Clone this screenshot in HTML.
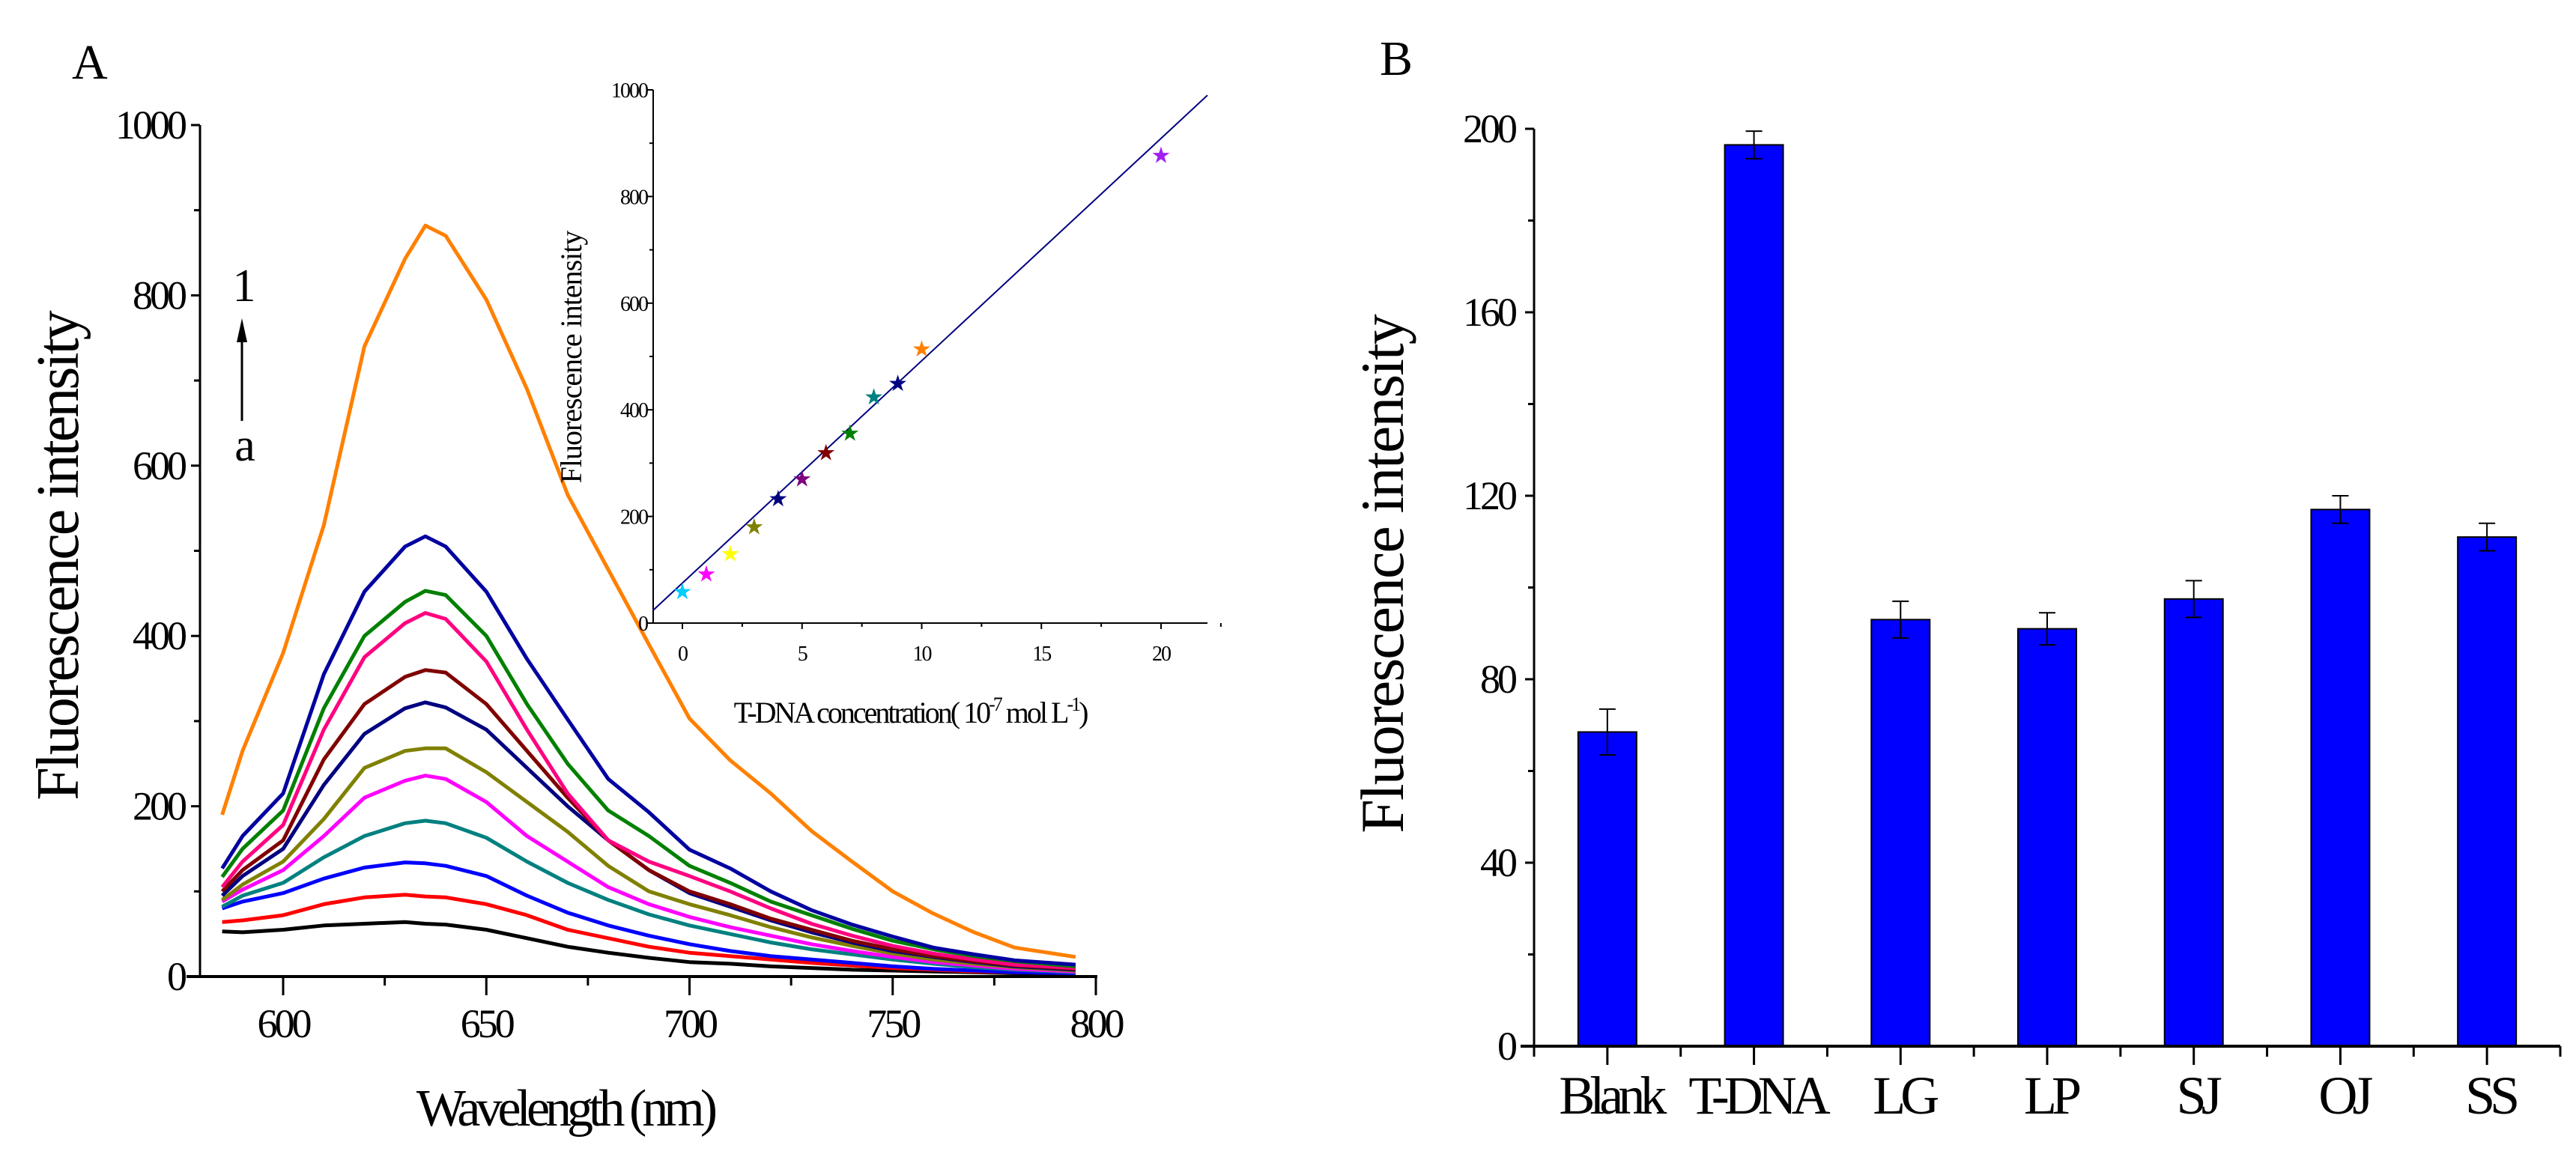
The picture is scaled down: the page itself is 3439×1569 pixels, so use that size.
<!DOCTYPE html>
<html><head><meta charset="utf-8"><style>
html,body{margin:0;padding:0;background:#fff}
svg{display:block}
text{font-family:"Liberation Serif",serif;fill:#000}
</style></head><body>
<svg id="fig" width="3439" height="1569" viewBox="0 0 3439 1569">
<g id="panelA"></g>
<g id="inset"></g>
<g id="panelB"></g>
</svg>
<script>
// ---------- Panel A data ----------
const wavelengths = [585,590,600,610,620,630,635,640,650,660,670,680,690,700,710,720,730,740,750,760,770,780,795];
const curveColors = ["#000000","#ff0000","#0000ff","#008080","#ff00ff","#808000","#000080","#800000","#ff0080","#008000","#0000a0","#ff8000"];
const curveBlack   = [53,52,55,60,62,64,62,61,55,45,35,28,22,17,15,12,10,8,7,6,5,4,3];
const curveRed     = [64,66,72,85,93,96,94,93,85,72,55,45,35,28,24,20,16,13,10,8,6,5,4];
const curveBlue    = [80,88,98,115,128,134,133,130,118,95,75,60,48,38,30,24,20,16,12,9,7,5,4];
const curveTeal    = [82,95,110,140,165,180,183,180,163,135,110,90,73,60,50,40,32,26,20,15,11,8,5];
const curveMagenta = [88,102,125,165,210,230,236,232,205,165,135,105,85,70,58,48,38,30,23,17,13,9,6];
const curveOlive   = [90,108,135,185,245,265,268,268,240,205,170,130,100,85,72,58,46,36,27,20,15,11,7];
const curveNavy    = [95,118,150,225,285,315,322,316,290,245,200,160,125,98,82,66,52,40,30,23,17,12,8];
const curveDarkRed = [100,125,160,255,320,352,360,357,320,265,210,160,125,100,85,68,55,42,32,24,18,13,9];
const curvePink    = [105,135,178,290,375,415,427,420,370,290,215,160,135,118,100,80,62,48,36,27,20,14,10];
const curveGreen   = [117,150,195,315,400,440,453,448,400,320,250,195,165,130,110,88,72,56,42,32,24,18,12];
const curveBlue2   = [127,165,215,355,452,505,517,505,452,373,302,232,193,149,127,100,78,61,47,34,26,19,14];
const curveOrange  = [190,265,380,530,740,843,882,870,795,690,566,478,390,303,254,215,171,135,100,74,52,34,23];
const curves = [curveBlack,curveRed,curveBlue,curveTeal,curveMagenta,curveOlive,curveNavy,curveDarkRed,curvePink,curveGreen,curveBlue2,curveOrange];
const aXTicks = [600,650,700,750,800];
const aYTicks = [0,200,400,600,800,1000];

// ---------- Inset data ----------
const concentrations = [0,1,2,3,4,5,6,7,8,9,10,20];
const insetValues = [62,95,133,183,236,273,322,359,427,452,517,880];
const pointColors = ["#00ccff","#ff00ff","#ffff00","#808000","#000080","#800080","#800000","#008000","#008080","#000080","#ff8000","#a020f0"];
const fitSlope = [41.7];
const fitIntercept = [75];
const insetXTicks = [0,5,10,15,20];
const insetYTicks = [0,200,400,600,800,1000];

// ---------- Panel B data ----------
const categories = ["Blank","T-DNA","LG","LP","SJ","OJ","SS"];
const barValues = [68.5,196.5,93,91,97.5,117,111];
const barErrors = [5,3,4,3.5,4,3,3];
const bYTicks = [0,40,80,120,160,200];

const NS="http://www.w3.org/2000/svg";
function mk(parent,tag,attrs,txt){const e=document.createElementNS(NS,tag);for(const k in attrs)e.setAttribute(k,attrs[k]);if(txt!==undefined)e.textContent=txt;parent.appendChild(e);return e;}

// ===== Panel A =====
const A=document.getElementById('panelA');
const ax0=267, ay0=1304, ay1=167;
const ax=v=>378+(v-600)*(1463-378)/200;
const ax1=ax(800);
const ay=v=>ay0-(v)*(ay0-ay1)/1000;
curves.forEach((c,i)=>{
  const d=c.map((v,j)=>(j?'L':'M')+ax(wavelengths[j]).toFixed(1)+','+ay(v).toFixed(1)).join(' ');
  const p=mk(A,'path',{d:d,fill:'none',stroke:curveColors[i],'stroke-width':5,'stroke-linejoin':'round'});
  
  
});
let l=mk(A,'line',{x1:ax0,y1:ay0,x2:ax0,y2:ay1,stroke:'#000','stroke-width':3});

l=mk(A,'line',{x1:ax0-18,y1:ay0,x2:ax1+2,y2:ay0,stroke:'#000','stroke-width':4});

for(let v=0;v<=1000;v+=100){mk(A,'line',{x1:ax0-(v%200?8:12),y1:ay(v),x2:ax0,y2:ay(v),stroke:'#000','stroke-width':3});}
for(let v=600;v<=800;v+=25){mk(A,'line',{x1:ax(v),y1:ay0,x2:ax(v),y2:ay0+(v%50?12:25),stroke:'#000','stroke-width':3});}
aYTicks.forEach(v=>{const t=mk(A,'text',{x:246,y:ay(v)+18,'text-anchor':'end','font-size':54,'letter-spacing':-4},String(v));
  });
aXTicks.forEach(v=>{const t=mk(A,'text',{x:ax(v),y:1385,'text-anchor':'middle','font-size':54,'letter-spacing':-4},String(v));
  });
let t=mk(A,'text',{x:0,y:0,transform:'translate(104,743) rotate(-90)','text-anchor':'middle','font-size':80,'letter-spacing':-3},'Fluorescence intensity');

t=mk(A,'text',{x:754,y:1503,'text-anchor':'middle','font-size':70,'letter-spacing':-6},'Wavelength (nm)');

t=mk(A,'text',{x:96,y:105,'font-size':66},'A');

t=mk(A,'text',{x:326,y:402,'text-anchor':'middle','font-size':62},'1');

t=mk(A,'text',{x:327,y:615,'text-anchor':'middle','font-size':62},'a');

l=mk(A,'line',{x1:323,y1:562,x2:323,y2:450,stroke:'#000','stroke-width':3});

mk(A,'polygon',{points:'323,425 316,457 330,457',fill:'#000'});

// ===== Inset =====
const I=document.getElementById('inset');
const ix0=872, ix1=1612, iy0=832, iy1=120;
const ix=v=>911+v*(1550-911)/20;
const iy=v=>iy0-v*(iy0-iy1)/1000;
l=mk(I,'line',{x1:ix0,y1:iy0,x2:ix0,y2:iy1,stroke:'#000','stroke-width':2});

l=mk(I,'line',{x1:ix0,y1:iy0,x2:ix1,y2:iy0,stroke:'#000','stroke-width':2});

for(let v=0;v<=1000;v+=100){mk(I,'line',{x1:ix0-(v%200?5:8),y1:iy(v),x2:ix0,y2:iy(v),stroke:'#000','stroke-width':2});}
for(let v=0;v<=22.5;v+=2.5){mk(I,'line',{x1:ix(v),y1:iy0,x2:ix(v),y2:iy0+(v%5?5:8),stroke:'#000','stroke-width':2});}
insetYTicks.forEach(v=>{const t=mk(I,'text',{x:864,y:iy(v)+10,'text-anchor':'end','font-size':28,'letter-spacing':-2},String(v));
  });
insetXTicks.forEach(v=>{const t=mk(I,'text',{x:ix(v),y:882,'text-anchor':'middle','font-size':28,'letter-spacing':-2},String(v));
  });
const xs=(ix0-911)/(1550-911)*20, xe=(ix1-911)/(1550-911)*20;
l=mk(I,'line',{x1:ix(xs),y1:iy(fitIntercept[0]+fitSlope[0]*xs),x2:ix(xe),y2:iy(fitIntercept[0]+fitSlope[0]*xe),stroke:'#000080','stroke-width':2});

concentrations.forEach((c,i)=>{const s=mk(I,'text',{x:ix(c),y:iy(insetValues[i])+12,'text-anchor':'middle','font-size':30,style:'fill:'+pointColors[i]},'★');
  });
t=mk(I,'text',{x:0,y:0,transform:'translate(776,477) rotate(-90)','text-anchor':'middle','font-size':40,'letter-spacing':-1},'Fluorescence intensity');

t=mk(I,'text',{x:1215,y:965,'text-anchor':'middle','font-size':40,'letter-spacing':-3});

t.innerHTML='T-DNA concentration(   10<tspan dy="-16" font-size="26">-7</tspan><tspan dy="16"> mol L</tspan><tspan dy="-16" font-size="26">-1</tspan><tspan dy="16">)</tspan>';

// ===== Panel B =====
const B=document.getElementById('panelB');
const bx0=2048, bx1=3418, by0=1397, by1=172;
const band=(bx1-bx0)/categories.length;
const bx=i=>bx0+band*(i+0.5);
const by=v=>by0-v*(by0-by1)/200;
categories.forEach((c,i)=>{
  const r=mk(B,'rect',{x:bx(i)-39,y:by(barValues[i]),width:78,height:by0-by(barValues[i]),fill:'#0000ff',stroke:'#000','stroke-width':2});
  
  const hi=by(barValues[i]+barErrors[i]), lo=by(barValues[i]-barErrors[i]);
  const g=mk(B,'path',{d:`M${bx(i)},${hi}V${lo}M${bx(i)-11},${hi}H${bx(i)+11}M${bx(i)-11},${lo}H${bx(i)+11}`,stroke:'#000','stroke-width':2,fill:'none'});
  
  const tl=mk(B,'text',{x:bx(i)+4,y:1487,'text-anchor':'middle','font-size':72,'letter-spacing':-7},c);
  
});
l=mk(B,'line',{x1:bx0,y1:by0,x2:bx0,y2:by1,stroke:'#000','stroke-width':3});

l=mk(B,'line',{x1:bx0-18,y1:by0,x2:bx1,y2:by0,stroke:'#000','stroke-width':4});

for(let v=0;v<=200;v+=20){mk(B,'line',{x1:bx0-(v%40?8:12),y1:by(v),x2:bx0,y2:by(v),stroke:'#000','stroke-width':3});}
for(let k=0;k<=categories.length*2;k++){mk(B,'line',{x1:bx0+band*k/2,y1:by0,x2:bx0+band*k/2,y2:by0+(k%2?25:14),stroke:'#000','stroke-width':3});}
bYTicks.forEach(v=>{const t=mk(B,'text',{x:2022,y:by(v)+18,'text-anchor':'end','font-size':54,'letter-spacing':-4},String(v));
  });
t=mk(B,'text',{x:0,y:0,transform:'translate(1873,767) rotate(-90)','text-anchor':'middle','font-size':82,'letter-spacing':-2},'Fluorescence intensity');

t=mk(B,'text',{x:1842,y:100,'font-size':66},'B');

</script>
</body></html>
